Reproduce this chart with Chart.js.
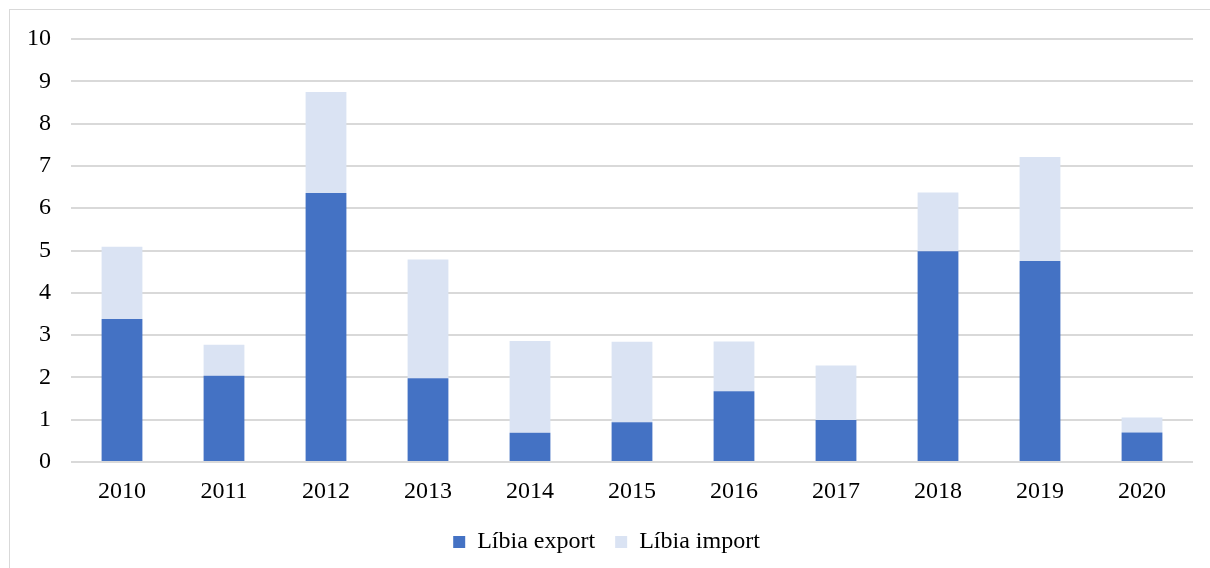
<!DOCTYPE html>
<html>
<head>
<meta charset="utf-8">
<script src="https://cdn.jsdelivr.net/npm/chart.js@4/dist/chart.umd.min.js"></script>
<style>
  html, body { margin: 0; padding: 0; background: #fff; overflow: hidden; }
  #frame { position: absolute; left: 9px; top: 9px; width: 1210px; height: 570px; border: 1px solid #d9d9d9; box-sizing: border-box; }
  #wrap { position: absolute; left: 0; top: 0; width: 1210px; height: 568px; }
</style>
</head>
<body>
<div id="frame"></div>
<div id="wrap"><canvas id="c" width="1210" height="568"></canvas></div>
<script>
const categories = ['2010','2011','2012','2013','2014','2015','2016','2017','2018','2019','2020'];
const exportValues = [3.38, 2.04, 6.36, 1.98, 0.69, 0.94, 1.67, 0.99, 4.98, 4.75, 0.70];
const importValues = [1.71, 0.73, 2.39, 2.81, 2.17, 1.90, 1.18, 1.29, 1.39, 2.46, 0.35];
const yTicks = [0,1,2,3,4,5,6,7,8,9,10];

const FONT = 'Liberation Serif, "Times New Roman", serif';

new Chart(document.getElementById('c'), {
  type: 'bar',
  data: {
    labels: categories,
    datasets: [
      { label: 'Líbia export', data: exportValues, backgroundColor: '#4472C4', borderWidth: 0, barPercentage: 0.8, categoryPercentage: 0.5 },
      { label: 'Líbia import', data: importValues, backgroundColor: '#DAE3F3', borderWidth: 0, barPercentage: 0.8, categoryPercentage: 0.5 }
    ]
  },
  options: {
    responsive: false,
    animation: false,
    devicePixelRatio: 1,
    layout: { padding: { left: 20, right: 17, top: 39, bottom: 4 } },
    plugins: {
      tooltip: { enabled: false },
      legend: {
        position: 'bottom',
        labels: {
          font: { family: FONT, size: 24 },
          color: '#000',
          boxWidth: 12,
          boxHeight: 12,
          padding: 20
        }
      }
    },
    scales: {
      x: {
        stacked: true,
        grid: { display: false, drawTicks: false },
        border: { display: false },
        ticks: { font: { family: FONT, size: 24 }, color: '#000', padding: 15, maxRotation: 0 },
        afterFit: (s) => { s.height = 48; }
      },
      y: {
        stacked: true,
        min: 0, max: 10,
        afterBuildTicks: (s) => { s.ticks = yTicks.map(v => ({ value: v })); },
        grid: { color: '#d9d9d9', lineWidth: 2, drawTicks: false },
        border: { display: false },
        ticks: { font: { family: FONT, size: 24 }, color: '#000', padding: 20 },
        afterFit: (s) => { s.width = 51; }
      }
    }
  }
});
</script>
</body>
</html>
